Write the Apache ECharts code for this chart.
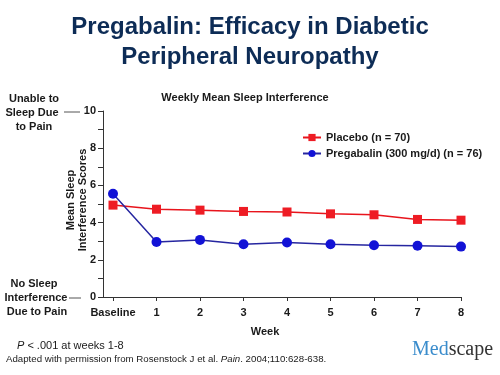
<!DOCTYPE html>
<html>
<head>
<meta charset="utf-8">
<script src="https://cdn.jsdelivr.net/npm/echarts@6/dist/echarts.min.js"></script>
<style>
    html, body { margin: 0; padding: 0; background: #fff; }
    #chart { width: 500px; height: 375px; }
</style>
</head>
<body>
<div id="chart"></div>
<script>
// 数据 ==========================================
const weeks = [0, 1, 2, 3, 4, 5, 6, 7, 8];
const weekLabels = ['Baseline', '1', '2', '3', '4', '5', '6', '7', '8'];
const placebo = [4.94, 4.72, 4.67, 4.6, 4.57, 4.47, 4.42, 4.17, 4.13];
const pregabalin = [5.55, 2.96, 3.07, 2.84, 2.93, 2.84, 2.78, 2.76, 2.71];
const seriesNames = ['Placebo (n = 70)', 'Pregabalin (300 mg/d) (n = 76)'];

const FONT = 'Liberation Sans, Arial, sans-serif';
const INK = '#1a1a1a';

function pairs(values) {
    return weeks.map((w, i) => [w, values[i]]);
}

function txt(x, y, text, opts = {}) {
    return {
        type: 'text', x: x, y: y,
        style: Object.assign({
            text: text, fill: INK, font: 'bold 11px ' + FONT,
            align: 'center', verticalAlign: 'middle'
        }, opts)
    };
}

const myChart = echarts.init(document.getElementById('chart'));

const option = {
    animation: false,
    grid: { left: 103, top: 111, right: 39, bottom: 78 },
    legend: {
        orient: 'vertical',
        left: 297, top: 127,
        itemWidth: 18, itemHeight: 9, itemGap: 5,
        textStyle: { fontFamily: FONT, fontWeight: 'bold', fontSize: 11, color: INK },
        data: seriesNames
    },
    xAxis: {
        type: 'value',
        min: -0.23, max: 8,
        splitLine: { show: false },
        axisLine: { onZero: false, lineStyle: { color: '#333', width: 1 } },
        axisTick: { show: true, length: 4, customValues: weeks, lineStyle: { color: '#333' } },
        axisLabel: {
            customValues: weeks,
            margin: 10,
            fontFamily: FONT, fontWeight: 'bold', fontSize: 11, color: INK,
            formatter: v => weekLabels[Math.round(v)]
        }
    },
    yAxis: {
        type: 'value',
        min: 0, max: 10, interval: 2,
        splitLine: { show: false },
        axisLine: { show: true, onZero: false, lineStyle: { color: '#333', width: 1 } },
        axisTick: { show: true, length: 5, lineStyle: { color: '#333' } },
        minorTick: { show: true, splitNumber: 2, length: 5, lineStyle: { color: '#333' } },
        axisLabel: {
            margin: 7,
            fontFamily: FONT, fontWeight: 'bold', fontSize: 11, color: INK
        }
    },
    series: [
        {
            name: seriesNames[0],
            type: 'line',
            data: pairs(placebo),
            symbol: 'rect', symbolSize: 9,
            lineStyle: { color: '#e8141c', width: 1.5 },
            itemStyle: { color: '#ee1c24' }
        },
        {
            name: seriesNames[1],
            type: 'line',
            data: pairs(pregabalin),
            symbol: 'circle', symbolSize: 10,
            lineStyle: { color: '#2626a0', width: 1.5 },
            itemStyle: { color: '#1212d6' }
        }
    ],
    graphic: [
        // 标题
        txt(250, 27, 'Pregabalin: Efficacy in Diabetic', { font: 'bold 24px ' + FONT, fill: '#0d2c56' }),
        txt(250, 57, 'Peripheral Neuropathy', { font: 'bold 24px ' + FONT, fill: '#0d2c56' }),
        txt(245, 98, 'Weekly Mean Sleep Interference', { font: 'bold 11px ' + FONT }),
        // 纵轴标题
        {
            type: 'text', x: 77, y: 200, rotation: Math.PI / 2,
            style: {
                text: 'Mean Sleep\nInterference Scores', fill: INK,
                font: 'bold 11px ' + FONT, align: 'center', verticalAlign: 'middle', lineHeight: 12
            }
        },
        // 左侧说明
        txt(34, 99, 'Unable to'),
        txt(32, 113, 'Sleep Due'),
        txt(34, 127, 'to Pain'),
        { type: 'line', shape: { x1: 64, y1: 112, x2: 80, y2: 112 }, style: { stroke: '#555', lineWidth: 1 } },
        txt(34, 284, 'No Sleep'),
        txt(36, 298, 'Interference'),
        txt(37, 312, 'Due to Pain'),
        { type: 'line', shape: { x1: 69, y1: 298, x2: 81, y2: 298 }, style: { stroke: '#555', lineWidth: 1 } },
        // 横轴标题
        txt(265, 332, 'Week'),
        // 脚注
        {
            type: 'text', x: 17, y: 346,
            style: {
                text: '{i|P} < .001 at weeks 1-8', fill: INK, font: '11px ' + FONT,
                verticalAlign: 'middle',
                rich: { i: { fontStyle: 'italic', fontSize: 11, fontFamily: FONT, fill: INK } }
            }
        },
        {
            type: 'text', x: 6, y: 359,
            style: {
                text: 'Adapted with permission from Rosenstock J et al. {i|Pain}. 2004;110:628-638.',
                fill: INK, font: '9.7px ' + FONT, verticalAlign: 'middle',
                rich: { i: { fontStyle: 'italic', fontSize: 9.7, fontFamily: FONT, fill: INK } }
            }
        },
        // Medscape 标志
        {
            type: 'text', x: 412, y: 350,
            style: {
                text: '{a|Med}{b|scape}', verticalAlign: 'middle',
                rich: {
                    a: { fontFamily: 'Liberation Serif, serif', fontSize: 20, fill: '#3a8ccc' },
                    b: { fontFamily: 'Liberation Serif, serif', fontSize: 20, fill: '#333' }
                }
            }
        }
    ]
};
myChart.setOption(option);
window.addEventListener('resize', () => myChart.resize());
</script>
</body>
</html>
